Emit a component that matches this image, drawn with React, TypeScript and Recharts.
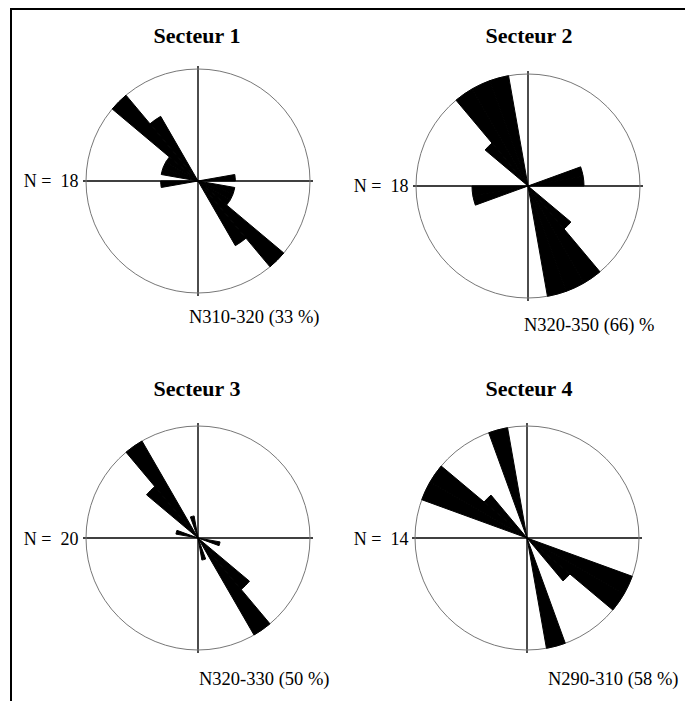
import React from 'react';
import { RadialBarChart, RadialBar, PolarGrid, PolarAngleAxis, PolarRadiusAxis } from 'recharts';

// classes de direction de 10° (N0-10 ... N170-180), symétrisées sur 180-360
const directions = [0, 10, 20, 30, 40, 50, 60, 70, 80, 90, 100, 110, 120, 130, 140, 150, 160, 170];

// effectifs par classe
const secteur1 = [0, 0, 0, 0, 0, 0, 0, 0, 2, 0, 2, 2, 2, 6, 4, 0, 0, 0];
const secteur2 = [0, 0, 0, 0, 0, 0, 0, 2, 2, 0, 0, 0, 0, 2, 4, 4, 4, 0];
const secteur3 = [0, 0, 0, 0, 0, 0, 0, 0, 0, 0, 2, 0, 0, 6, 10, 0, 2, 0];
const secteur4 = [0, 0, 0, 0, 0, 0, 0, 0, 0, 0, 0, 4, 4, 2, 0, 0, 4, 0];

const titles = ['Secteur 1', 'Secteur 2', 'Secteur 3', 'Secteur 4'];
const totals = [18, 18, 20, 14];
const modes = ['N310-320 (33 %)', 'N320-350 (66) %', 'N320-330 (50 %)', 'N290-310 (58 %)'];

const R = 112;
const SIZE = 260;
const FONT = "'Liberation Serif', 'Times New Roman', serif";

const panels = [
  { cx: 198, cy: 181, titleX: 197, titleY: 42.5, nX: 78.5, nY: 187, modeX: 189, modeY: 323 },
  { cx: 528, cy: 185.5, titleX: 529, titleY: 42.5, nX: 408.5, nY: 191.5, modeX: 524, modeY: 331 },
  { cx: 198, cy: 538, titleX: 197, titleY: 395.5, nX: 78.5, nY: 544.5, modeX: 199, modeY: 685 },
  { cx: 527, cy: 538, titleX: 529, titleY: 395.5, nX: 408.5, nY: 544.5, modeX: 548, modeY: 685 },
];

const toRose = (counts: number[]) => [
  ...directions.map((d, i) => ({ dir: `N${d}`, count: counts[i] })),
  ...directions.map((d, i) => ({ dir: `N${d + 180}`, count: counts[i] })),
];

const roses = [secteur1, secteur2, secteur3, secteur4].map(toRose);

const noMargin = { top: 0, right: 0, bottom: 0, left: 0 };

// recharts décale les secteurs d'une classe sur l'axe angulaire : on démarre à 80° pour avoir N0 en haut
const START = 80;
const END = -280;

const Rose = ({ data, cx, cy }: { data: { dir: string; count: number }[]; cx: number; cy: number }) => (
  <div style={{ position: 'absolute', left: cx - SIZE / 2, top: cy - SIZE / 2, width: SIZE, height: SIZE }}>
    <div style={{ position: 'absolute', left: 0, top: 0 }}>
      <RadialBarChart
        width={SIZE}
        height={SIZE}
        data={data}
        layout="centric"
        cx={SIZE / 2}
        cy={SIZE / 2}
        innerRadius={0}
        outerRadius={R + 3}
        startAngle={START}
        endAngle={END}
        margin={noMargin}
      >
        <PolarAngleAxis type="category" dataKey="dir" tick={false} tickLine={false} axisLine={false} />
        <PolarRadiusAxis type="number" tick={false} axisLine={false} />
        <PolarGrid polarAngles={[0, 90, 180, 270]} polarRadius={[]} stroke="#000" strokeWidth={1.4} />
      </RadialBarChart>
    </div>
    <div style={{ position: 'absolute', left: 0, top: 0 }}>
      <RadialBarChart
        width={SIZE}
        height={SIZE}
        data={data}
        layout="centric"
        cx={SIZE / 2}
        cy={SIZE / 2}
        innerRadius={0}
        outerRadius={R}
        startAngle={START}
        endAngle={END}
        barCategoryGap="0%"
        barGap={0}
        margin={noMargin}
      >
        <PolarGrid gridType="circle" radialLines={false} polarAngles={[]} polarRadius={[R]} stroke="#777" strokeWidth={1} />
        <PolarAngleAxis type="category" dataKey="dir" tick={false} tickLine={false} axisLine={false} />
        <PolarRadiusAxis type="number" domain={[0, 'dataMax']} tick={false} axisLine={false} />
        <RadialBar
          dataKey="count"
          barSize={9.99}
          fill="#000"
          stroke="#000"
          strokeWidth={1}
          strokeLinejoin="miter"
          isAnimationActive={false}
        />
      </RadialBarChart>
    </div>
  </div>
);

export default function App() {
  return (
    <div
      style={{
        position: 'absolute',
        left: 0,
        top: 0,
        width: 685,
        height: 701,
        overflow: 'hidden',
        background: '#fff',
      }}
    >
      {roses.map((data, i) => (
        <Rose key={titles[i]} data={data} cx={panels[i].cx} cy={panels[i].cy} />
      ))}
      <svg
        width={685}
        height={701}
        style={{ position: 'absolute', left: 0, top: 0, pointerEvents: 'none' }}
        fontFamily={FONT}
      >
        <path d="M11 705 L11 9 L690 9" fill="none" stroke="#000" strokeWidth={2} />
        {panels.map((p, i) => (
          <g key={titles[i]}>
            <text x={p.titleX} y={p.titleY} textAnchor="middle" fontSize={22} fontWeight="bold">
              {titles[i]}
            </text>
            <text x={p.nX} y={p.nY} textAnchor="end" fontSize={18} style={{ whiteSpace: 'pre' }}>
              {`N =  ${totals[i]}`}
            </text>
            <text x={p.modeX} y={p.modeY} fontSize={18.5}>
              {modes[i]}
            </text>
          </g>
        ))}
      </svg>
    </div>
  );
}
